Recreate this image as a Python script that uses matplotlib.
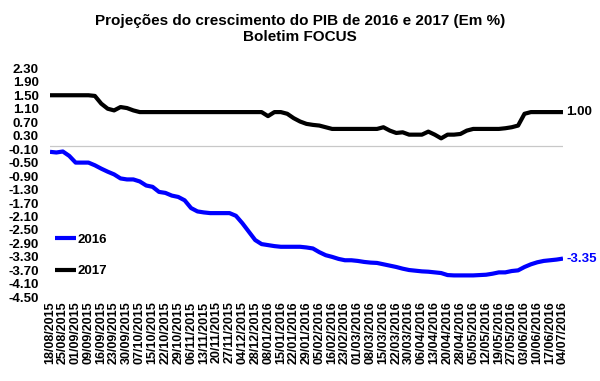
import matplotlib
matplotlib.use("Agg")
import matplotlib.pyplot as plt
import numpy as np

plt.rcParams['font.family'] = ['Liberation Sans', 'DejaVu Sans']
plt.rcParams['font.weight'] = 'bold'

dates = ["18/08/2015", "25/08/2015", "01/09/2015", "09/09/2015", "16/09/2015", "23/09/2015",
         "30/09/2015", "07/10/2015", "15/10/2015", "22/10/2015", "29/10/2015", "06/11/2015",
         "13/11/2015", "20/11/2015", "27/11/2015", "04/12/2015", "28/12/2015", "08/01/2016",
         "15/01/2016", "22/01/2016", "29/01/2016", "05/02/2016", "16/02/2016", "23/02/2016",
         "01/03/2016", "08/03/2016", "15/03/2016", "22/03/2016", "30/03/2016", "06/04/2016",
         "13/04/2016", "20/04/2016", "28/04/2016", "05/05/2016", "12/05/2016", "19/05/2016",
         "27/05/2016", "03/06/2016", "10/06/2016", "17/06/2016", "04/07/2016"]

pib_2016 = [-0.18, -0.20, -0.17, -0.30, -0.50, -0.50, -0.50, -0.58, -0.68, -0.77,
            -0.85, -0.97, -1.00, -1.00, -1.06, -1.18, -1.22, -1.37, -1.40, -1.48,
            -1.52, -1.62, -1.85, -1.95, -1.98, -2.00, -2.00, -2.00, -2.00, -2.08,
            -2.30, -2.55, -2.80, -2.92, -2.95, -2.98, -3.00, -3.00, -3.00, -3.00,
            -3.02, -3.05, -3.16, -3.25, -3.30, -3.36, -3.40, -3.40, -3.42, -3.45,
            -3.47, -3.48, -3.52, -3.56, -3.60, -3.65, -3.69, -3.71, -3.73, -3.74,
            -3.76, -3.78, -3.84, -3.85, -3.85, -3.85, -3.85, -3.84, -3.83, -3.80,
            -3.76, -3.76, -3.72, -3.70, -3.60, -3.52, -3.46, -3.42, -3.40, -3.38,
            -3.35]

pib_2017 = [1.50, 1.50, 1.50, 1.50, 1.50, 1.50, 1.50, 1.48, 1.25, 1.10,
            1.05, 1.15, 1.12, 1.05, 1.00, 1.00, 1.00, 1.00, 1.00, 1.00,
            1.00, 1.00, 1.00, 1.00, 1.00, 1.00, 1.00, 1.00, 1.00, 1.00,
            1.00, 1.00, 1.00, 1.00, 0.88, 1.00, 1.00, 0.95, 0.82, 0.72,
            0.65, 0.62, 0.60, 0.55, 0.50, 0.50, 0.50, 0.50, 0.50, 0.50,
            0.50, 0.50, 0.55, 0.45, 0.38, 0.40, 0.33, 0.33, 0.33, 0.42,
            0.33, 0.22, 0.33, 0.33, 0.35, 0.45, 0.50, 0.50, 0.50, 0.50,
            0.50, 0.52, 0.55, 0.60, 0.95, 1.00, 1.00, 1.00, 1.00, 1.00,
            1.00]

yticks = [2.30, 1.90, 1.50, 1.10, 0.70, 0.30, -0.10, -0.50, -0.90, -1.30, -1.70,
          -2.10, -2.50, -2.90, -3.30, -3.70, -4.10, -4.50]

fig = plt.figure(figsize=(6.0, 3.81), dpi=100)
ax = fig.add_axes([0.0833, 0.2197, 0.855, 0.601])

x = np.arange(len(pib_2016))
ax.axhline(0, color='#c8c8c8', lw=0.9, zorder=1)
ax.plot(x, pib_2016, color='#0000ff', lw=3.0, label='2016', solid_capstyle='butt', zorder=3)
ax.plot(x, pib_2017, color='black', lw=3.0, label='2017', solid_capstyle='butt', zorder=3)

ax.set_xlim(0, len(x) - 1)
ax.set_ylim(-4.5, 2.3)
ax.set_yticks(yticks)
ax.set_yticklabels([f"{v:.2f}" for v in yticks], fontsize=9.5, fontweight='bold')
ax.set_xticks(np.arange(0, len(x), 2))
ax.set_xticklabels(dates, rotation=90, fontsize=9, fontweight='bold')
ax.tick_params(axis='y', length=0, pad=8)
ax.tick_params(axis='x', length=0, pad=3)
for s in ax.spines.values():
    s.set_visible(False)

ax.text(len(x) - 1 + 0.5, pib_2017[-1], f"{pib_2017[-1]:.2f}", color='black', fontsize=9.5,
        fontweight='bold', va='center', ha='left', clip_on=False)
ax.text(len(x) - 1 + 0.5, pib_2016[-1], f"{pib_2016[-1]:.2f}", color='#0000ff', fontsize=9.5,
        fontweight='bold', va='center', ha='left', clip_on=False)

leg = ax.legend(loc='upper left', bbox_to_anchor=(0.0, 0.30), frameon=False,
                handlelength=1.6, handletextpad=0.1, labelspacing=1.45,
                prop={'weight': 'bold', 'size': 9.5}, borderaxespad=0)

fig.text(0.5, 0.963, "Projeções do crescimento do PIB de 2016 e 2017 (Em %)\nBoletim FOCUS",
         ha='center', va='top', fontsize=11, fontweight='bold', linespacing=1.2)

fig.savefig("out.png", dpi=100)
